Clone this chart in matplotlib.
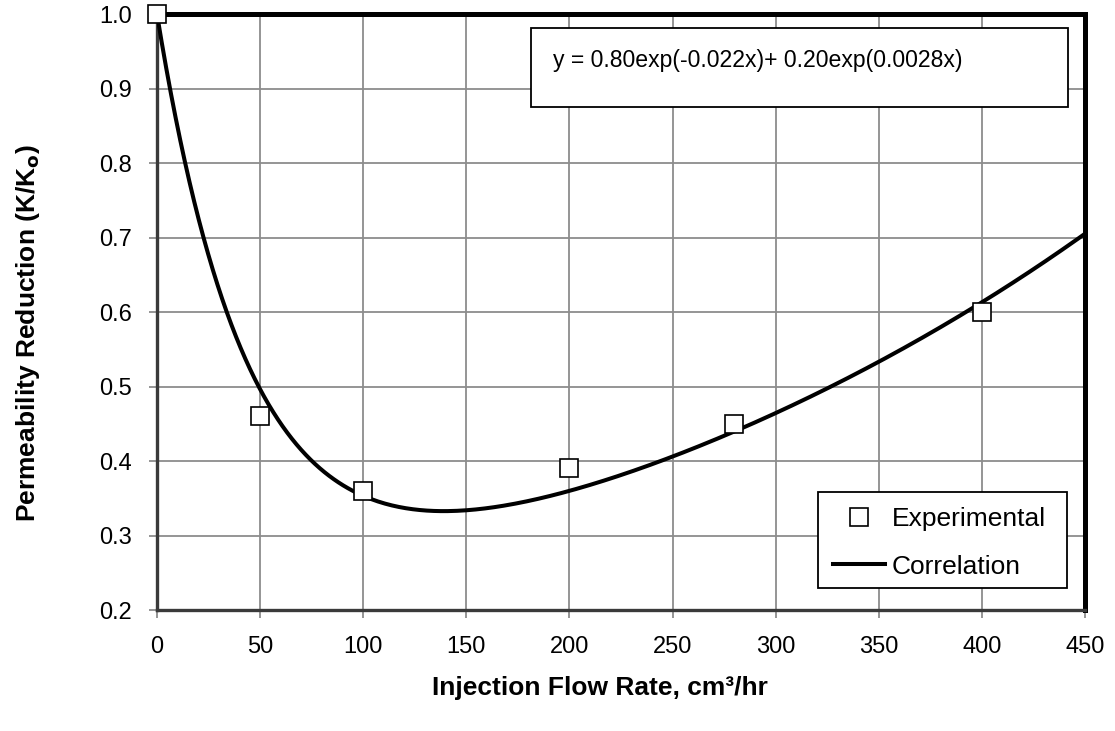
import numpy as np
import matplotlib.pyplot as plt
from matplotlib.patches import Rectangle

plt.rcParams['font.family'] = ['Liberation Sans', 'DejaVu Sans']

# experimental points
flow_rate = [0, 50, 100, 200, 280, 400]
perm_ratio = [1.00, 0.46, 0.36, 0.39, 0.45, 0.60]

# correlation y = a1*exp(b1*x) + a2*exp(b2*x), coefficients as printed
coef_a = [0.80, 0.20]
coef_b = [-0.022, 0.0028]
x_range = [0, 450]

xticks = [0, 50, 100, 150, 200, 250, 300, 350, 400, 450]
yticks = [0.2, 0.3, 0.4, 0.5, 0.6, 0.7, 0.8, 0.9, 1.0]

FS = 17

xc = np.linspace(x_range[0], x_range[1], 400)
yc = coef_a[0] * np.exp(coef_b[0] * xc) + coef_a[1] * np.exp(coef_b[1] * xc)

fig = plt.figure(figsize=(11.15, 7.31), dpi=100)
ax = fig.add_axes([0.1408, 0.1655, 0.8323, 0.8153])

ax.grid(True, color='#8c8c8c', lw=1.3)
ax.set_axisbelow(True)

ax.plot(xc, yc, color='black', lw=2.9, label='Correlation', zorder=3)
ax.plot(flow_rate, perm_ratio, ls='none', marker='s', ms=13.5, mfc='white',
        mec='black', mew=1.2, label='Experimental', zorder=4, clip_on=False)

ax.set_xlim(0, 450)
ax.set_ylim(0.2, 1.0)
ax.set_xticks(xticks)
ax.set_yticks(yticks)
ax.set_yticklabels([f'{v:.1f}' for v in yticks])
ax.tick_params(labelsize=FS, color='#8c8c8c', length=6, width=1.3)
ax.tick_params(axis='x', pad=12.5)
ax.tick_params(axis='y', pad=12)

for side in ['top', 'right']:
    ax.spines[side].set_linewidth(3.6)
    ax.spines[side].set_color('black')
for side in ['left', 'bottom']:
    ax.spines[side].set_linewidth(2.4)
    ax.spines[side].set_color('#3a3a3a')

ax.set_xlabel('Injection Flow Rate, cm³/hr', fontsize=19, fontweight='bold')
ax.set_ylabel('Permeability Reduction (K/K$_\\mathbf{o}$)', fontsize=19,
              fontweight='bold')
ax.xaxis.set_label_coords(0.477, -0.131)
ax.yaxis.set_label_coords(-0.139, 0.465)
ax.xaxis.label.set_va('center')
ax.yaxis.label.set_va('center')

# equation box
ax.add_patch(Rectangle((0.403, 0.844), 0.579, 0.1325, transform=ax.transAxes,
                       fill=True, facecolor='white', edgecolor='black', lw=1.3,
                       zorder=5))
ax.text(0.4267, 0.922, 'y = 0.80exp(-0.022x)+ 0.20exp(0.0028x)',
        transform=ax.transAxes, fontsize=16.6, va='center', ha='left', zorder=6)

# legend frame drawn separately (wider right margin than matplotlib's)
ax.add_patch(Rectangle((0.7123, 0.0369), 0.2683, 0.1611, transform=ax.transAxes,
                       facecolor='white', edgecolor='black', lw=1.3, zorder=5))
handles, labels = ax.get_legend_handles_labels()
leg = ax.legend(handles[::-1], labels[::-1], loc='upper left',
                bbox_to_anchor=(0.7123, 0.198), fontsize=19, frameon=False,
                borderpad=0.57, labelspacing=0.89, handlelength=1.97,
                handletextpad=0.25, markerscale=0.95, borderaxespad=0)
leg.set_zorder(6)

fig.savefig('out.png', dpi=100)
